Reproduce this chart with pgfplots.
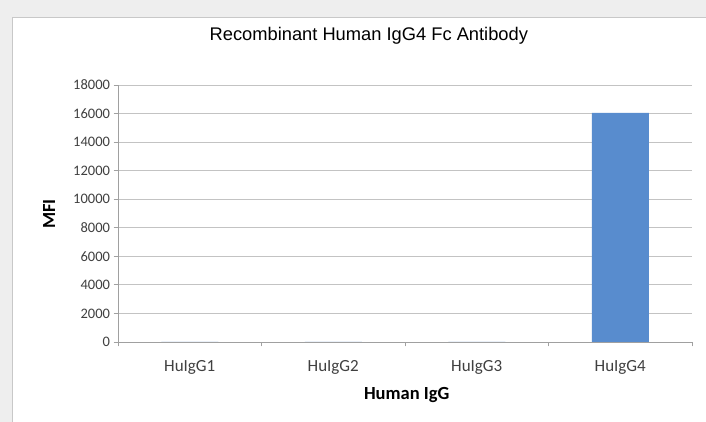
\documentclass[border=0pt]{standalone}
\usepackage{pgfplots}
\pgfplotsset{compat=1.18}
\usepackage{fontspec}
\setmainfont{Carlito}
\newfontfamily\titlefont{Liberation Sans}
\definecolor{bgray}{RGB}{238,238,238}
\definecolor{bordergray}{RGB}{200,200,200}
\definecolor{gridgray}{RGB}{195,195,195}
\definecolor{axisgray}{RGB}{160,160,160}
\definecolor{barblue}{RGB}{88,140,206}
\begin{document}
\begin{tikzpicture}[x=1pt,y=1pt]
\useasboundingbox (0,0) rectangle (706,422);
\fill[bgray] (0,0) rectangle (706,422);
\begin{scope}
\clip (0,0) rectangle (706,422);
\fill[white,draw=bordergray,line width=1pt] (12,-2) rectangle (708,404);
\end{scope}
\begin{axis}[
  at={(118pt,80pt)}, anchor=south west,
  scale only axis, width=574pt, height=257pt,
  xmin=-0.5, xmax=3.5, ymin=0, ymax=18000,
  axis x line*=bottom, axis y line*=left,
  axis line style={axisgray, line width=0.8pt},
  xtick={-0.5,0.5,1.5,2.5,3.5},
  xticklabels={HuIgG1,HuIgG2,HuIgG3,HuIgG4,},
  ytick={0,2000,...,18000},
  scaled y ticks=false,
  tick align=outside, major tick length=4.5pt,
  tick style={axisgray, line width=0.8pt},
  ymajorgrids, grid style={gridgray, line width=0.8pt},
  /pgf/number format/assume math mode=true,
  /pgf/number format/1000 sep={},
  x tick label style={font=\fontsize{17}{20}\selectfont, text=black!75, anchor=center, yshift=-21pt, xshift=71.75pt},
  y tick label style={font=\fontsize{14.5}{18}\selectfont, text=black!75},
  xlabel={\textbf{Human IgG}},
  xlabel style={font=\fontsize{18.5}{22}\selectfont, at={(axis description cs:0.503,-0.207)}, anchor=center},
  ylabel={\textbf{MFI}},
  ylabel style={font=\fontsize{18.5}{22}\selectfont, at={(axis description cs:-0.12,0.498)}, anchor=center, rotate=0},
  title={\titlefont Recombinant Human IgG4 Fc Antibody},
  title style={font=\fontsize{18.3}{22}\selectfont, at={(axis description cs:0.437,1.167)}, anchor=center},
  clip=false,
]
\addplot[ybar, bar width=57pt, fill=barblue, draw=none] coordinates {(0,0) (1,0) (2,0) (3,16050)};
\end{axis}
\end{tikzpicture}
\end{document}
